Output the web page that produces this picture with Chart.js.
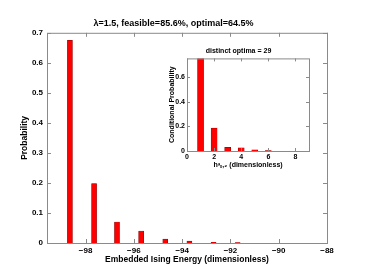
<!DOCTYPE html>
<html>
<head>
<meta charset="utf-8">
<script src="https://cdn.jsdelivr.net/npm/chart.js@4"></script>
<style>
  body { margin: 0; background: #fff; }
  #wrap { position: relative; width: 373px; height: 276px; }
  #main { position: absolute; left: 0; top: 0; }
  #inset { position: absolute; left: 160px; top: 40px; }
</style>
</head>
<body>
<div id="wrap">
  <canvas id="main" width="373" height="276"></canvas>
  <canvas id="inset" width="155" height="130"></canvas>
</div>
<script>
// main histogram
var energies = [-98.65, -97.65, -96.7, -95.7, -94.7, -93.7, -92.7, -91.7];
var probs = [0.675, 0.198, 0.07, 0.04, 0.013, 0.006, 0.002, 0.001];
var energyTicks = [-98, -96, -94, -92, -90, -88];
var probTicks = [0, 0.1, 0.2, 0.3, 0.4, 0.5, 0.6, 0.7];

// inset histogram
var hValues = [1, 2, 3, 4, 5, 6];
var condProbs = [0.78, 0.185, 0.03, 0.025, 0.01, 0.003];
var hTicks = [0, 2, 4, 6, 8];
var condTicks = [0, 0.2, 0.4, 0.6];

var fontFam = '"Liberation Sans", Arial, Helvetica, sans-serif';
Chart.defaults.font.family = fontFam;
Chart.defaults.font.weight = 'bold';
Chart.defaults.color = '#000';
Chart.defaults.animation = false;

// MATLAB-like box with inward ticks
var boxPlugin = {
    id: 'box',
    afterDraw: function(chart) {
        var c = chart.ctx, a = chart.chartArea;
        var xs = chart.scales.x, ys = chart.scales.y;
        var len = chart.options.plugins.box.len;
        c.save();
        c.strokeStyle = '#8a8a8a';
        c.lineWidth = 1;
        c.strokeRect(a.left + 0.5, a.top + 0.5, a.right - a.left, a.bottom - a.top);
        c.beginPath();
        xs.ticks.forEach(function(t) {
            var px = Math.round(xs.getPixelForValue(t.value)) + 0.5;
            c.moveTo(px, a.bottom); c.lineTo(px, a.bottom - len);
            c.moveTo(px, a.top); c.lineTo(px, a.top + len);
        });
        ys.ticks.forEach(function(t) {
            var py = Math.round(ys.getPixelForValue(t.value)) + 0.5;
            c.moveTo(a.left, py); c.lineTo(a.left + len, py);
            c.moveTo(a.right, py); c.lineTo(a.right - len, py);
        });
        c.stroke();
        c.restore();
    }
};

function pts(xv, yv) {
    return xv.map(function(x, i) { return { x: x, y: yv[i] }; });
}

var noGrid = { display: false, drawTicks: false, tickLength: 0 };

new Chart(document.getElementById('main'), {
    type: 'bar',
    data: {
        datasets: [{
            data: pts(energies, probs),
            backgroundColor: '#ff0000',
            borderColor: '#7a0000',
            borderWidth: 0.5,
            barThickness: 5
        }]
    },
    options: {
        responsive: false,
        layout: { padding: { left: 20, right: 46, top: 0, bottom: 0 } },
        plugins: {
            legend: { display: false },
            tooltip: { enabled: false },
            title: {
                display: true,
                text: 'λ=1.5, feasible=85.6%, optimal=64.5%',
                font: { size: 9, weight: 'bold' },
                padding: { top: 18, bottom: 4 }
            },
            box: { len: 4 }
        },
        scales: {
            x: {
                type: 'linear',
                offset: false,
                min: -99.6,
                max: -88,
                afterBuildTicks: function(s) { s.ticks = energyTicks.map(function(v) { return { value: v }; }); },
                afterFit: function(s) { s.height = 33; },
                grid: noGrid,
                border: { display: false },
                ticks: { font: { size: 8 }, padding: 3, maxRotation: 0,
                         callback: function(v) { return String(v).replace('-', '\u2212'); } },
                title: { display: true, text: 'Embedded Ising Energy (dimensionless)', font: { size: 8.5 }, padding: { top: 0, bottom: 11 } }
            },
            y: {
                min: 0,
                max: 0.7,
                afterBuildTicks: function(s) { s.ticks = probTicks.map(function(v) { return { value: v }; }); },
                afterFit: function(s) { s.width = 27; },
                grid: noGrid,
                border: { display: false },
                ticks: { font: { size: 8 }, padding: 4 },
                title: { display: true, text: 'Probability', font: { size: 8.5 }, padding: 0 }
            }
        }
    },
    plugins: [boxPlugin]
});

new Chart(document.getElementById('inset'), {
    type: 'bar',
    data: {
        datasets: [{
            data: pts(hValues, condProbs),
            backgroundColor: '#ff0000',
            borderColor: '#7a0000',
            borderWidth: 0.5,
            barThickness: 6
        }]
    },
    options: {
        responsive: false,
        layout: { padding: { left: 8, right: 6, top: 0, bottom: 0 } },
        plugins: {
            legend: { display: false },
            tooltip: { enabled: false },
            title: {
                display: true,
                text: 'distinct optima = 29',
                font: { size: 7, weight: 'bold' },
                padding: { top: 7, bottom: 3 }
            },
            box: { len: 3 }
        },
        scales: {
            x: {
                type: 'linear',
                offset: false,
                min: 0,
                max: 9,
                afterBuildTicks: function(s) { s.ticks = hTicks.map(function(v) { return { value: v }; }); },
                afterFit: function(s) { s.height = 19; },
                grid: noGrid,
                border: { display: false },
                ticks: { font: { size: 7 }, padding: 2, maxRotation: 0 },
                title: { display: true, text: 'hᵃₛ,₂ (dimensionless)', font: { size: 7 }, padding: { top: 0, bottom: 1 } }
            },
            y: {
                min: 0,
                max: 0.75,
                afterBuildTicks: function(s) { s.ticks = condTicks.map(function(v) { return { value: v }; }); },
                afterFit: function(s) { s.width = 19; },
                grid: noGrid,
                border: { display: false },
                ticks: { font: { size: 7 }, padding: 2 },
                title: { display: true, text: 'Conditional Probability', font: { size: 7 }, padding: 0 }
            }
        }
    },
    plugins: [boxPlugin]
});
</script>
</body>
</html>
